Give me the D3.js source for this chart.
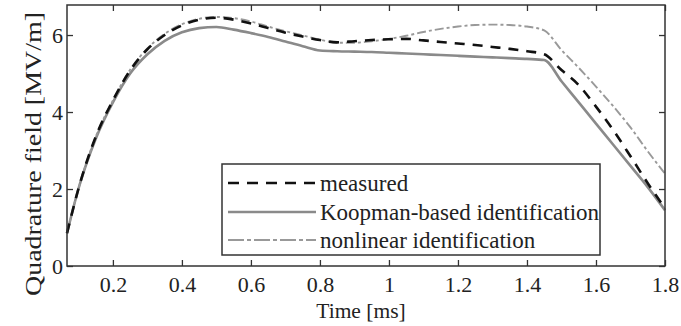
<!DOCTYPE html>
<html><head><meta charset="utf-8">
<script src="https://cdn.jsdelivr.net/npm/d3@7"></script>
<style>body{margin:0;background:#fff;} svg{display:block;}</style>
</head><body>
<svg id="chart" width="681" height="326"></svg>
<script>
const time = [0.067, 0.1, 0.15, 0.2, 0.25, 0.3, 0.35, 0.4, 0.45, 0.5, 0.55, 0.6, 0.65, 0.7, 0.75, 0.8, 0.85, 0.9, 0.95, 1.0, 1.05, 1.1, 1.15, 1.2, 1.25, 1.3, 1.35, 1.4, 1.45, 1.5, 1.55, 1.6, 1.65, 1.7, 1.75, 1.8];
const measured = [0.85, 2.0, 3.35, 4.3, 5.08, 5.63, 6.0, 6.25, 6.4, 6.45, 6.4, 6.3, 6.18, 6.06, 5.96, 5.87, 5.81, 5.84, 5.87, 5.89, 5.9, 5.86, 5.82, 5.78, 5.74, 5.69, 5.64, 5.58, 5.5, 5.09, 4.7, 4.14, 3.53, 2.85, 2.15, 1.5];
const koopman = [0.85, 2.0, 3.3, 4.25, 5.0, 5.5, 5.85, 6.07, 6.18, 6.21, 6.14, 6.05, 5.95, 5.83, 5.71, 5.6, 5.58, 5.57, 5.56, 5.54, 5.52, 5.5, 5.48, 5.46, 5.44, 5.42, 5.4, 5.38, 5.35, 4.8, 4.25, 3.7, 3.15, 2.6, 2.05, 1.45];
const nonlinear = [0.85, 2.0, 3.35, 4.3, 5.1, 5.65, 6.03, 6.28, 6.42, 6.47, 6.44, 6.35, 6.22, 6.1, 5.99, 5.88, 5.8, 5.8, 5.84, 5.9, 5.98, 6.08, 6.16, 6.22, 6.26, 6.27, 6.26, 6.22, 6.12, 5.61, 5.15, 4.66, 4.15, 3.6, 2.98, 2.4];
const xTicks = [0.2, 0.4, 0.6, 0.8, 1, 1.2, 1.4, 1.6, 1.8];
const xTickLabels = ["0.2", "0.4", "0.6", "0.8", "1", "1.2", "1.4", "1.6", "1.8"];
const yTicks = [0, 2, 4, 6];
const yTickLabels = ["0", "2", "4", "6"];
const seriesNames = ["measured", "Koopman-based identification", "nonlinear identification"];
const xLabel = "Time [ms]";
const yLabel = "Quadrature field [MV/m]";

const svg = d3.select("#chart");
const m = {left: 67, right: 665, top: 5, bottom: 266};
const x = d3.scaleLinear().domain([0.067, 1.8]).range([m.left, m.right]);
const y = d3.scaleLinear().domain([0, 6.78]).range([m.bottom, m.top]);
const font = "'Liberation Serif', 'Times New Roman', serif";
const txt = "#222";

const styles = [
  {stroke: "#111", width: 2.6, dash: "11,8"},
  {stroke: "#8a8a8a", width: 2.6, dash: null},
  {stroke: "#999", width: 1.9, dash: "16,3,4,3"}
];
const data = [measured, koopman, nonlinear];

const line = d3.line().curve(d3.curveMonotoneX);
[1, 2, 0].forEach(i => {
  const pts = time.map((t, k) => [x(t), y(data[i][k])]);
  svg.append("path").attr("d", line(pts)).attr("fill", "none")
    .attr("stroke", styles[i].stroke).attr("stroke-width", styles[i].width)
    .attr("stroke-dasharray", i === 0 ? "10,8" : (i === 2 ? "9,3,3,3" : null));
});

const gx = svg.append("g").attr("transform", `translate(0,${m.bottom})`)
  .call(d3.axisBottom(x).tickValues(xTicks).tickSize(-6).tickPadding(10).tickFormat((d, i) => xTickLabels[i]));
const gxt = svg.append("g").attr("transform", `translate(0,${m.top})`)
  .call(d3.axisTop(x).tickValues(xTicks).tickSize(-6).tickFormat(""));
const gy = svg.append("g").attr("transform", `translate(${m.left},0)`)
  .call(d3.axisLeft(y).tickValues(yTicks).tickSize(-6).tickPadding(4).tickFormat((d, i) => yTickLabels[i]));
const gyr = svg.append("g").attr("transform", `translate(${m.right},0)`)
  .call(d3.axisRight(y).tickValues(yTicks).tickSize(-6).tickFormat(""));
[gx, gxt, gy, gyr].forEach(g => {
  g.select(".domain").remove();
  g.selectAll(".tick line").attr("stroke", "#333").attr("stroke-width", 1.3);
  g.selectAll("text").attr("font-family", font).attr("font-size", 22).attr("fill", txt);
});
svg.append("rect").attr("x", m.left).attr("y", m.top).attr("width", m.right - m.left).attr("height", m.bottom - m.top)
  .attr("fill", "none").attr("stroke", "#333").attr("stroke-width", 1.5);

svg.append("text").attr("x", 361).attr("y", 318).attr("text-anchor", "middle")
  .attr("font-family", font).attr("font-size", 21.5).attr("fill", txt).text(xLabel);
svg.append("text").attr("transform", `translate(41,154) rotate(-90)`).attr("text-anchor", "middle")
  .attr("font-family", font).attr("font-size", 23).attr("fill", txt)
  .attr("textLength", 284).attr("lengthAdjust", "spacingAndGlyphs").text(yLabel);

const lg = svg.append("g");
lg.append("rect").attr("x", 222).attr("y", 164).attr("width", 378).attr("height", 91)
  .attr("fill", "#fff").attr("stroke", "#333").attr("stroke-width", 1.5);
const rowsY = [183, 212, 240];
seriesNames.forEach((name, i) => {
  lg.append("line").attr("x1", 228).attr("x2", 316).attr("y1", rowsY[i]).attr("y2", rowsY[i])
    .attr("stroke", styles[i].stroke).attr("stroke-width", styles[i].width).attr("stroke-dasharray", styles[i].dash);
  lg.append("text").attr("x", 320).attr("y", rowsY[i]).attr("dy", "0.33em")
    .attr("font-family", font).attr("font-size", 23).attr("fill", txt).text(name);
});
</script>
</body></html>
